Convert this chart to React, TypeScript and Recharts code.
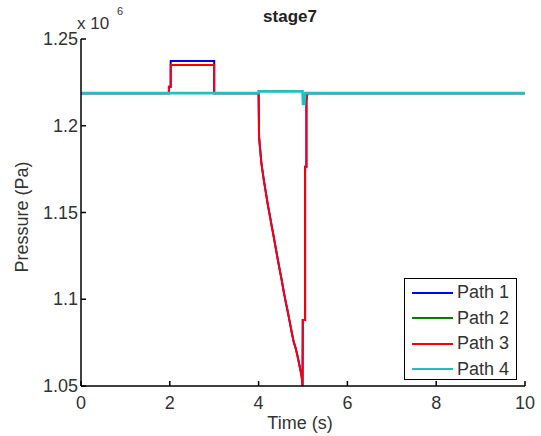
import React from 'react';
import { LineChart, Line, XAxis, YAxis } from 'recharts';

// pressure in units of 1e6 Pa
const path1Time = [0, 1.98, 1.98, 2.02, 2.02, 3.0, 3.0, 4.0, 4.0, 4.01, 4.063, 4.115, 4.16, 4.205, 4.25, 4.295, 4.34, 4.385, 4.43, 4.476, 4.52, 4.566, 4.61, 4.656, 4.7, 4.746, 4.79, 4.836, 4.88, 4.927, 4.97, 4.99, 4.995, 5.047, 5.047, 5.077, 5.077, 5.1, 10];
const path1Pressure = [1.2188, 1.2188, 1.2225, 1.2225, 1.2373, 1.2373, 1.2188, 1.2188, 1.2188, 1.1937, 1.1784, 1.1691, 1.162, 1.1549, 1.1486, 1.1422, 1.1361, 1.1297, 1.1232, 1.1169, 1.1111, 1.1044, 1.0986, 1.0929, 1.0871, 1.081, 1.0755, 1.0717, 1.0669, 1.0611, 1.0554, 1.05, 1.088, 1.088, 1.1764, 1.1764, 1.2145, 1.2188, 1.2188];

const path2Time = [0, 4.0, 4.0, 4.99, 5.0, 5.03, 5.05, 10];
const path2Pressure = [1.2188, 1.2188, 1.2198, 1.2198, 1.2125, 1.2125, 1.2188, 1.2188];

const path3Time = [0, 1.98, 1.98, 2.02, 2.02, 3.0, 3.0, 4.0, 4.0, 4.01, 4.063, 4.115, 4.16, 4.205, 4.25, 4.295, 4.34, 4.385, 4.43, 4.476, 4.52, 4.566, 4.61, 4.656, 4.7, 4.746, 4.79, 4.836, 4.88, 4.927, 4.97, 4.99, 4.995, 5.047, 5.047, 5.077, 5.077, 5.1, 10];
const path3Pressure = [1.2188, 1.2188, 1.2225, 1.2225, 1.235, 1.235, 1.2188, 1.2188, 1.2188, 1.1937, 1.1784, 1.1691, 1.162, 1.1549, 1.1486, 1.1422, 1.1361, 1.1297, 1.1232, 1.1169, 1.1111, 1.1044, 1.0986, 1.0929, 1.0871, 1.081, 1.0755, 1.0717, 1.0669, 1.0611, 1.0554, 1.05, 1.088, 1.088, 1.1764, 1.1764, 1.2145, 1.2188, 1.2188];

const path4Time = [0, 4.0, 4.0, 4.99, 5.0, 5.03, 5.05, 10];
const path4Pressure = [1.2188, 1.2188, 1.2198, 1.2198, 1.2125, 1.2125, 1.2188, 1.2188];

const seriesNames = ['Path 1', 'Path 2', 'Path 3', 'Path 4'];
const seriesColors = ['#0000ff', '#008000', '#ff0000', '#1fc0c0'];
// path 4 is drawn last and a bit wider so the lines under it stay hidden
const seriesWidths = [2, 1, 2, 2.6];
const xTicks = [0, 2, 4, 6, 8, 10];
const yTicks = [1.05, 1.1, 1.15, 1.2, 1.25];

const toPoints = (t: number[], p: number[]) => t.map((x, i) => ({ t: x, p: p[i] }));
const series = [
  toPoints(path1Time, path1Pressure),
  toPoints(path2Time, path2Pressure),
  toPoints(path3Time, path3Pressure),
  toPoints(path4Time, path4Pressure),
];

const W = 541;
const H = 436;
const LEFT = 81;
const TOP = 39;
const BOTTOM = 386;
const font = '"Liberation Sans", Arial, sans-serif';
const textColor = '#333';

const XTick = (props: any) => {
  const { x, payload } = props;
  return (
    <g>
      <line x1={x} x2={x} y1={BOTTOM} y2={BOTTOM - 5} stroke="#000" strokeWidth={1.5} />
      <text x={x} y={BOTTOM + 23} textAnchor="middle" fontSize={18} fill={textColor} fontFamily={font}>
        {payload.value}
      </text>
    </g>
  );
};

const YTick = (props: any) => {
  const { y, payload } = props;
  return (
    <g>
      <line x1={LEFT} x2={LEFT + 5} y1={y} y2={y} stroke="#000" strokeWidth={1.5} />
      <text x={LEFT - 3} y={y + 6} textAnchor="end" fontSize={18} fill={textColor} fontFamily={font}>
        {String(payload.value)}
      </text>
    </g>
  );
};

export default function App() {
  return (
    <div style={{ position: 'fixed', left: 0, top: 0, width: W, height: H, background: '#fff', fontFamily: font }}>
      <LineChart width={W} height={H} margin={{ top: TOP, right: 16, bottom: 0, left: 0 }}>
        <XAxis
          type="number"
          dataKey="t"
          domain={[0, 10]}
          ticks={xTicks}
          height={H - BOTTOM}
          tickLine={false}
          axisLine={{ stroke: '#000', strokeWidth: 1.5 }}
          tick={<XTick />}
          allowDuplicatedCategory={false}
        />
        <YAxis
          type="number"
          dataKey="p"
          domain={[1.05, 1.25]}
          ticks={yTicks}
          width={LEFT}
          allowDataOverflow
          tickLine={false}
          axisLine={{ stroke: '#000', strokeWidth: 1.5 }}
          tick={<YTick />}
        />
        {series.map((d, i) => (
          <Line
            key={seriesNames[i]}
            data={d}
            dataKey="p"
            name={seriesNames[i]}
            type="linear"
            stroke={seriesColors[i]}
            strokeWidth={seriesWidths[i]}
            dot={false}
            isAnimationActive={false}
          />
        ))}
      </LineChart>

      <div style={{ position: 'absolute', left: 290, top: 7, transform: 'translateX(-50%)', fontSize: 17, fontWeight: 'bold', color: '#222' }}>
        stage7
      </div>
      <div style={{ position: 'absolute', left: 77, top: 14, fontSize: 17, color: textColor }}>
        x 10<span style={{ position: 'absolute', left: 40, top: -9, fontSize: 11 }}>6</span>
      </div>
      <div
        style={{
          position: 'absolute',
          left: 22,
          top: 217,
          transform: 'translate(-50%, -50%) rotate(-90deg)',
          whiteSpace: 'nowrap',
          fontSize: 18,
          color: textColor,
        }}
      >
        Pressure (Pa)
      </div>
      <div style={{ position: 'absolute', left: 300, top: 423, transform: 'translate(-50%, -50%)', fontSize: 18, color: textColor }}>
        Time (s)
      </div>

      <div
        style={{
          position: 'absolute',
          left: 404,
          top: 278,
          width: 113,
          height: 102,
          border: '1.5px solid #000',
          background: '#fff',
          boxSizing: 'border-box',
          paddingTop: 1,
        }}
      >
        {seriesNames.map((n, i) => (
          <div key={n} style={{ display: 'flex', alignItems: 'center', height: 25.5 }}>
            <div style={{ marginLeft: 7, width: 41, height: 2, background: seriesColors[i] }} />
            <span style={{ marginLeft: 4, fontSize: 18, color: textColor }}>{n}</span>
          </div>
        ))}
      </div>
    </div>
  );
}
